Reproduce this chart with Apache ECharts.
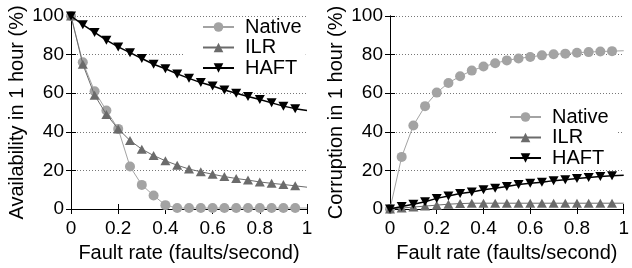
<!DOCTYPE html>
<html>
<head>
    <meta charset="UTF-8">
    <title>Availability / Corruption</title>
    <script src="https://cdn.jsdelivr.net/npm/echarts@6/dist/echarts.min.js"></script>
    <style>
        html, body { margin: 0; padding: 0; background: #fff; }
        #main { width: 632px; height: 268px; }
    </style>
</head>
<body>
<div id="main"></div>
<script>
    // x positions (faults/second); the last point only carries the line to the border
    var rates = [0, 0.05, 0.1, 0.15, 0.2, 0.25, 0.3, 0.35, 0.4, 0.45, 0.5,
                 0.55, 0.6, 0.65, 0.7, 0.75, 0.8, 0.85, 0.9, 0.95, 1];

    // availability in 1 hour (%)
    var availNative = [100, 76, 61, 51, 41.5, 22, 12.5, 7, 2, 0.5, 0.5,
                       0.5, 0.5, 0.5, 0.5, 0.5, 0.5, 0.5, 0.5, 0.5, 0.5];
    var availILR = [100, 75, 59, 49, 41.5, 35.5, 31, 27.7, 25, 22.7, 20.7,
                    19.3, 18, 16.8, 15.8, 15, 14, 13.3, 12.7, 12, 11.3];
    var availHAFT = [100, 95.5, 91.5, 87.5, 84, 81, 78, 75, 72.7, 70, 67.7,
                     65.5, 63.7, 61.7, 60, 58.3, 56.7, 55, 53.3, 52, 51];

    // corruption in 1 hour (%)
    var corrNative = [0, 27, 43.3, 53.3, 60.3, 65.3, 68.8, 71.7, 73.8, 75.5, 77,
                      78, 78.8, 79.6, 80.2, 80.5, 81, 81.3, 81.6, 81.8, 82];
    var corrILR = [0, 0.5, 1, 1.5, 2, 2.5, 2.8, 3, 3, 3, 3,
                   3, 3, 3, 3, 3, 3, 3, 3, 3, 3];
    var corrHAFT = [0, 1.3, 2.5, 3.8, 5.5, 6.7, 8, 8.8, 10, 10.8, 11.7,
                    12.7, 13.3, 13.8, 14.7, 15.2, 15.8, 16.3, 16.8, 17.2, 17.5];

    var names = ['Native', 'ILR', 'HAFT'];
    var colors = ['#a3a3a3', '#6b6b6b', '#000000'];
    var symbols = ['circle', 'path://M0,10 L5,0 L10,10 Z', 'path://M0,0 L10,0 L5,10 Z'];
    var sizes = [10, [10, 9], [10, 9]];
    var widths = [1, 1, 1.5];

    var font = 'Liberation Sans';

    function pts(ys) {
        return rates.map(function (x, i) {
            if (i === rates.length - 1) return {value: [x, ys[i]], symbol: 'none'};
            return [x, ys[i]];
        });
    }

    function mkSeries(k, ys, idx) {
        return {
            name: names[k],
            type: 'line',
            xAxisIndex: idx,
            yAxisIndex: idx,
            data: pts(ys),
            symbol: symbols[k],
            symbolSize: sizes[k],
            showAllSymbol: true,
            clip: false,
            color: colors[k],
            lineStyle: {color: colors[k], width: widths[k]},
            itemStyle: {color: colors[k]},
            animation: false,
            z: 3 + k
        };
    }

    function xAx(idx) {
        return {
            type: 'value', gridIndex: idx, min: 0, max: 1, interval: 0.2,
            name: 'Fault rate (faults/second)', nameLocation: 'middle', nameGap: 34,
            nameTextStyle: {fontFamily: font, fontSize: 20, color: '#000'},
            axisLine: {lineStyle: {color: '#000', width: 1}},
            axisTick: {inside: true, length: 5, lineStyle: {color: '#000'}},
            axisLabel: {fontFamily: font, fontSize: 19, color: '#000', margin: 10},
            splitLine: {show: false}
        };
    }

    function yAx(idx, title) {
        return {
            type: 'value', gridIndex: idx, min: 0, max: 100, interval: 20,
            name: title, nameLocation: 'middle', nameGap: 44,
            nameTextStyle: {fontFamily: font, fontSize: 20, color: '#000'},
            axisLine: {show: true, lineStyle: {color: '#000', width: 1}},
            axisTick: {show: true, inside: true, length: 5, lineStyle: {color: '#000'}},
            axisLabel: {fontFamily: font, fontSize: 19, color: '#000', margin: 7},
            splitLine: {show: true, lineStyle: {color: '#777', type: [1, 2], width: 1}}
        };
    }

    // mirrored ticks on top / right like gnuplot
    function xMirror(idx) {
        return {type: 'value', gridIndex: idx, position: 'top', min: 0, max: 1, interval: 0.2,
            axisLine: {lineStyle: {color: '#000'}}, axisLabel: {show: false},
            axisTick: {inside: true, length: 5, lineStyle: {color: '#000'}}, splitLine: {show: false}};
    }
    function yMirror(idx) {
        return {type: 'value', gridIndex: idx, position: 'right', min: 0, max: 100, interval: 20,
            axisLine: {show: true, lineStyle: {color: '#000'}}, axisLabel: {show: false},
            axisTick: {show: true, inside: true, length: 5, lineStyle: {color: '#000'}}, splitLine: {show: false}};
    }

    function legendAt(left, top, padding) {
        return {
            orient: 'vertical', left: left, top: top,
            data: names, itemWidth: 31, itemHeight: 12, itemGap: 0.5,
            padding: padding, backgroundColor: '#fff',
            selectedMode: false,
            textStyle: {fontFamily: font, fontSize: 20, color: '#000', lineHeight: 20, padding: [0, 0, 0, 6]}
        };
    }

    var chart = echarts.init(document.getElementById('main'), null, {renderer: 'canvas'});
    chart.setOption({
        animation: false,
        backgroundColor: '#fff',
        grid: [
            {left: 71, right: 325, top: 16, bottom: 52},
            {left: 390, right: 4, top: 16, bottom: 52}
        ],
        legend: [
            legendAt(184, 17, [0, 4, 4, 18]),
            legendAt(498, 106, [1, 8, 2, 11])
        ],
        xAxis: [xAx(0), xAx(1), xMirror(0), xMirror(1)],
        yAxis: [yAx(0, 'Availability in 1 hour (%)'), yAx(1, 'Corruption in 1 hour (%)'), yMirror(0), yMirror(1)],
        series: [
            mkSeries(0, availNative, 0), mkSeries(1, availILR, 0), mkSeries(2, availHAFT, 0),
            mkSeries(0, corrNative, 1), mkSeries(1, corrILR, 1), mkSeries(2, corrHAFT, 1)
        ]
    });
</script>
</body>
</html>
